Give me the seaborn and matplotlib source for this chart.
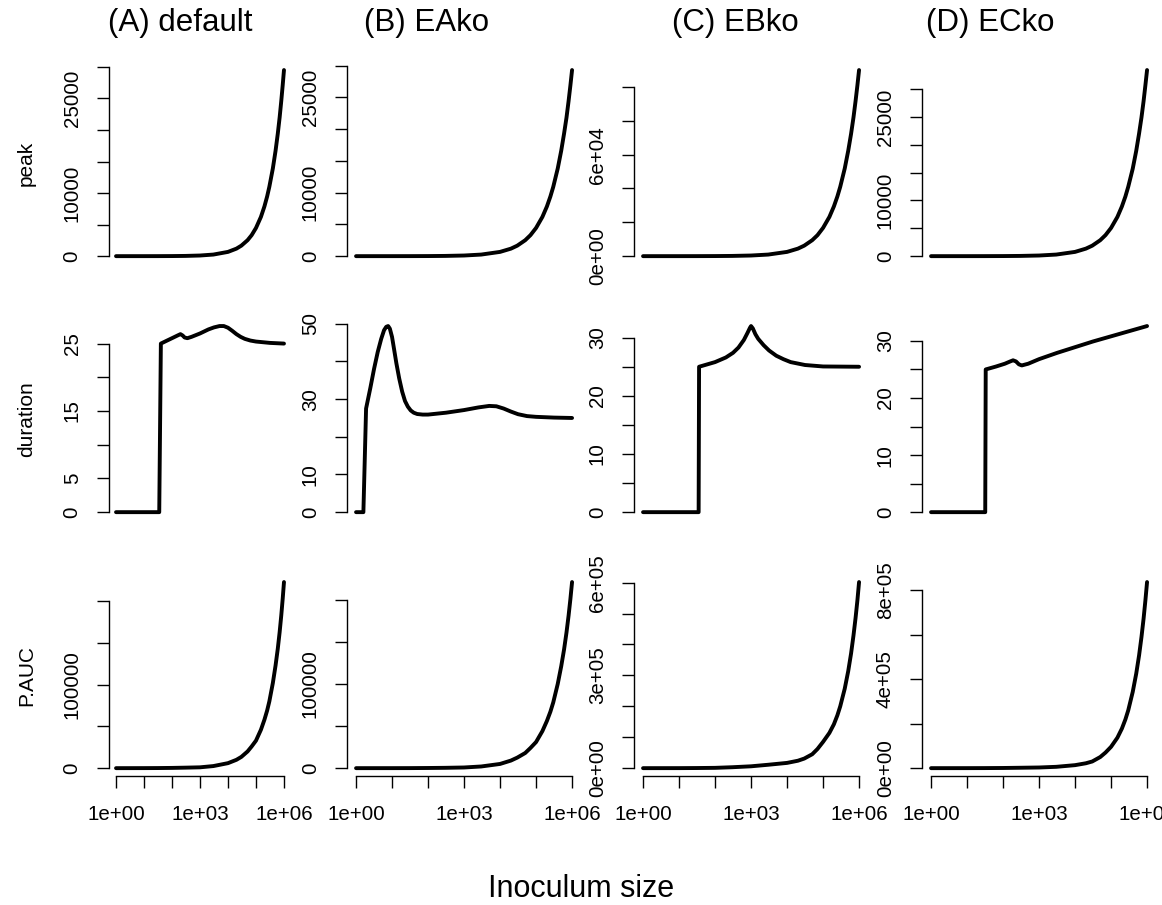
import seaborn as sns
import matplotlib.pyplot as plt
import pandas as pd

# ---- data ----
col_titles = ['(A) default', '(B) EAko', '(C) EBko', '(D) ECko']
row_names = ['peak', 'duration', 'P.AUC']

x_grid = [1, 3, 10, 30, 100, 300, 1e3, 3e3, 1e4, 2e4, 3e4, 5e4, 7e4, 1e5, 1.5e5, 2e5, 2.5e5, 3e5,
          4e5, 5e5, 6e5, 7e5, 8e5, 9e5, 1e6]
peak_A = [0, 1, 2, 5, 15, 38, 102, 252, 676, 1190, 1665, 2530, 3330, 4470, 6220, 7880, 9460, 11000,
          13900, 16700, 19400, 22000, 24600, 27100, 29500]
peak_B = [0, 1, 2, 5, 15, 38, 101, 250, 671, 1180, 1650, 2510, 3310, 4440, 6180, 7820, 9390, 10900,
          13800, 16600, 19300, 21800, 24400, 26900, 29300]
peak_C = [0, 4, 7, 19, 56, 142, 380, 940, 2520, 4440, 6210, 9430, 12400, 16700, 23200, 29400, 35300, 41000,
          51800, 62300, 72300, 82000, 91700, 101000, 110000]
peak_D = [0, 1, 2, 6, 17, 43, 115, 285, 765, 1350, 1880, 2860, 3770, 5060, 7040, 8920, 10700, 12450,
          15700, 18900, 22000, 24900, 27800, 30700, 33400]

x_dur_A = [1, 35, 40, 63, 100, 158, 200, 240, 282, 355, 500, 1000, 2000, 3160, 5000, 7100, 1e4, 14100,
           20000, 28200, 39800, 63000, 1e5, 3.16e5, 1e6]
dur_A = [0, 0, 25.0, 25.4, 25.8, 26.2, 26.4, 26.2, 25.9, 25.8, 26.0, 26.5, 27.1, 27.4, 27.6, 27.6, 27.35, 26.9,
         26.4, 26.0, 25.7, 25.45, 25.3, 25.1, 25.0]
x_dur_B = [1, 1.6, 1.9, 2.5, 3.16, 4.0, 5.0, 6.0, 6.9, 7.8, 8.7, 10, 11.5, 13.2, 15.8, 19.1, 22.9, 27.5, 33,
           40, 50, 71, 100, 316, 1000, 2500, 5000, 7900, 12600, 20000, 31600, 56000, 1e5, 3.16e5, 1e6]
dur_B = [0, 0, 27.5, 33, 38, 42.5, 46, 48.3, 49.2, 49.4, 48.7, 46.5, 43, 39.5, 35.5, 32.0, 29.5, 28.0, 27.0,
         26.4, 26.05, 25.9, 25.9, 26.4, 27.1, 27.8, 28.2, 28.1, 27.5, 26.7, 26.0, 25.5, 25.3, 25.1, 25.0]
x_dur_C = [1, 35, 36, 100, 200, 316, 447, 631, 794, 933, 1000, 1120, 1320, 1580, 2240, 3160, 5010, 7940,
           12600, 31600, 1e5, 1e6]
dur_C = [0, 0, 25.0, 25.8, 26.6, 27.4, 28.3, 29.6, 30.8, 31.7, 32.0, 31.6, 30.6, 29.8, 28.7, 27.8, 26.9, 26.3,
         25.8, 25.3, 25.05, 25.0]
x_dur_D = [1, 32, 33, 63, 112, 158, 190, 229, 275, 331, 500, 1000, 3160, 1e4, 31600, 1e5, 3.16e5, 1e6]
dur_D = [0, 0, 25.0, 25.5, 26.0, 26.4, 26.6, 26.4, 25.9, 25.7, 26.0, 26.8, 27.9, 28.9, 29.9, 30.8, 31.7, 32.6]

auc_A = [0, 20, 50, 120, 300, 600, 1000, 2500, 6000, 10000, 13500, 20000, 26000, 33000, 46000, 58000, 69000,
         80000, 102000, 123000, 143000, 163000, 183000, 203000, 223000]
auc_B = [0, 10, 20, 60, 200, 400, 800, 2000, 5000, 9000, 12500, 18000, 24000, 31000, 44000, 56000, 67000,
         78000, 100000, 121000, 141000, 161000, 181000, 201000, 221000]
auc_C = [0, 40, 100, 400, 1000, 3000, 6000, 11000, 17000, 24000, 31000, 45000, 62000, 85000, 114000, 142000,
         171000, 200000, 257000, 314000, 371000, 429000, 486000, 543000, 602000]
auc_D = [0, 40, 100, 300, 800, 1800, 3000, 6000, 13500, 22000, 30000, 50000, 70000, 96000, 137000, 178000,
         219000, 260000, 343000, 425000, 507000, 590000, 672000, 755000, 837000]

# y ticks and the labels R kept (empty = tick without label)
ticks_k = [0, 5000, 10000, 15000, 20000, 25000, 30000]
labels_k = ['0', '', '10000', '', '', '25000', '']
ticks_peakC = [0, 20000, 40000, 60000, 80000, 100000]
labels_peakC = ['0e+00', '', '', '6e+04', '', '']
ticks_durA = [0, 5, 10, 15, 20, 25]
labels_durA = ['0', '5', '', '15', '', '25']
ticks_durB = [0, 10, 20, 30, 40, 50]
labels_durB = ['0', '10', '', '30', '', '50']
ticks_durCD = [0, 5, 10, 15, 20, 25, 30]
labels_durCD = ['0', '', '10', '', '20', '', '30']
ticks_aucAB = [0, 50000, 100000, 150000, 200000]
labels_aucAB = ['0', '', '100000', '', '']
ticks_aucC = [0, 100000, 200000, 300000, 400000, 500000, 600000]
labels_aucC = ['0e+00', '', '', '3e+05', '', '', '6e+05']
ticks_aucD = [0, 200000, 400000, 600000, 800000]
labels_aucD = ['0e+00', '', '4e+05', '', '8e+05']

x_ticks = [1, 10, 100, 1e3, 1e4, 1e5, 1e6]
x_labels = ['1e+00', '', '', '1e+03', '', '', '1e+06']

panels = [
    [(x_grid, peak_A, ticks_k, labels_k), (x_grid, peak_B, ticks_k, labels_k),
     (x_grid, peak_C, ticks_peakC, labels_peakC), (x_grid, peak_D, ticks_k, labels_k)],
    [(x_dur_A, dur_A, ticks_durA, labels_durA), (x_dur_B, dur_B, ticks_durB, labels_durB),
     (x_dur_C, dur_C, ticks_durCD, labels_durCD), (x_dur_D, dur_D, ticks_durCD, labels_durCD)],
    [(x_grid, auc_A, ticks_aucAB, labels_aucAB), (x_grid, auc_B, ticks_aucAB, labels_aucAB),
     (x_grid, auc_C, ticks_aucC, labels_aucC), (x_grid, auc_D, ticks_aucD, labels_aucD)],
]

# ---- layout (pixels) ----
W, H = 1162, 905
col_left = [109.3, 347.4, 634.4, 922.4]
col_width = [181.4, 233.3, 233.3, 233.3]
row_top = [62.6, 318.6, 574.6]
row_height = 201
title_x = [180, 427, 735, 990]

sns.set_theme(style='white')
plt.rcParams['font.family'] = ['Liberation Sans', 'DejaVu Sans']

fig = plt.figure(figsize=(W / 100, H / 100), dpi=100)

for r in range(3):
    for c in range(4):
        xs, ys, yt, yl = panels[r][c]
        ax = fig.add_axes([col_left[c] / W, 1 - (row_top[r] + row_height) / H,
                           col_width[c] / W, row_height / H])
        ax.set_xscale('log')
        df = pd.DataFrame({'x': xs, 'y': ys})
        sns.lineplot(data=df, x='x', y='y', ax=ax, color='black', linewidth=2.8,
                     estimator=None, sort=False, solid_capstyle='round', solid_joinstyle='round')
        ax.margins(x=0.04, y=0.04)
        ax.set_xlabel('')
        ax.set_ylabel('')
        ax.set_facecolor('none')
        for s in ['top', 'right']:
            ax.spines[s].set_visible(False)
        ax.spines['left'].set_color('black')
        ax.spines['left'].set_linewidth(1.0)
        ax.spines['left'].set_bounds(yt[0], yt[-1])
        ax.set_yticks(yt)
        ax.set_yticklabels(yl)
        ax.tick_params(axis='y', direction='out', length=8.9, width=1.0, color='black',
                       pad=11, labelsize=14.8, labelcolor='black', left=True)
        for t in ax.get_yticklabels():
            t.set_rotation(90)
            t.set_va('center')
        ax.xaxis.set_minor_locator(plt.NullLocator())
        if r == 2:
            ax.spines['bottom'].set_color('black')
            ax.spines['bottom'].set_linewidth(1.0)
            ax.spines['bottom'].set_bounds(x_ticks[0], x_ticks[-1])
            ax.set_xticks(x_ticks)
            ax.set_xticklabels(x_labels)
            ax.tick_params(axis='x', direction='out', length=8.9, width=1.0, color='black',
                           pad=12.5, labelsize=14.8, labelcolor='black', bottom=True)
        else:
            ax.spines['bottom'].set_visible(False)
            ax.set_xticks([])
        ax.grid(False)

for c in range(4):
    fig.text(title_x[c] / W, 1 - 31 / H, col_titles[c], ha='center', va='baseline',
             fontsize=22.5, color='black')

for r in range(3):
    fig.text(32 / W, 1 - (row_top[r] + row_height / 2) / H, row_names[r], rotation=90,
             rotation_mode='anchor', ha='center', va='baseline', fontsize=15, color='black')

fig.text(581 / W, 1 - 897 / H, 'Inoculum size', ha='center', va='baseline',
         fontsize=22, color='black')

fig.savefig('out.png', dpi=100, facecolor='white')
